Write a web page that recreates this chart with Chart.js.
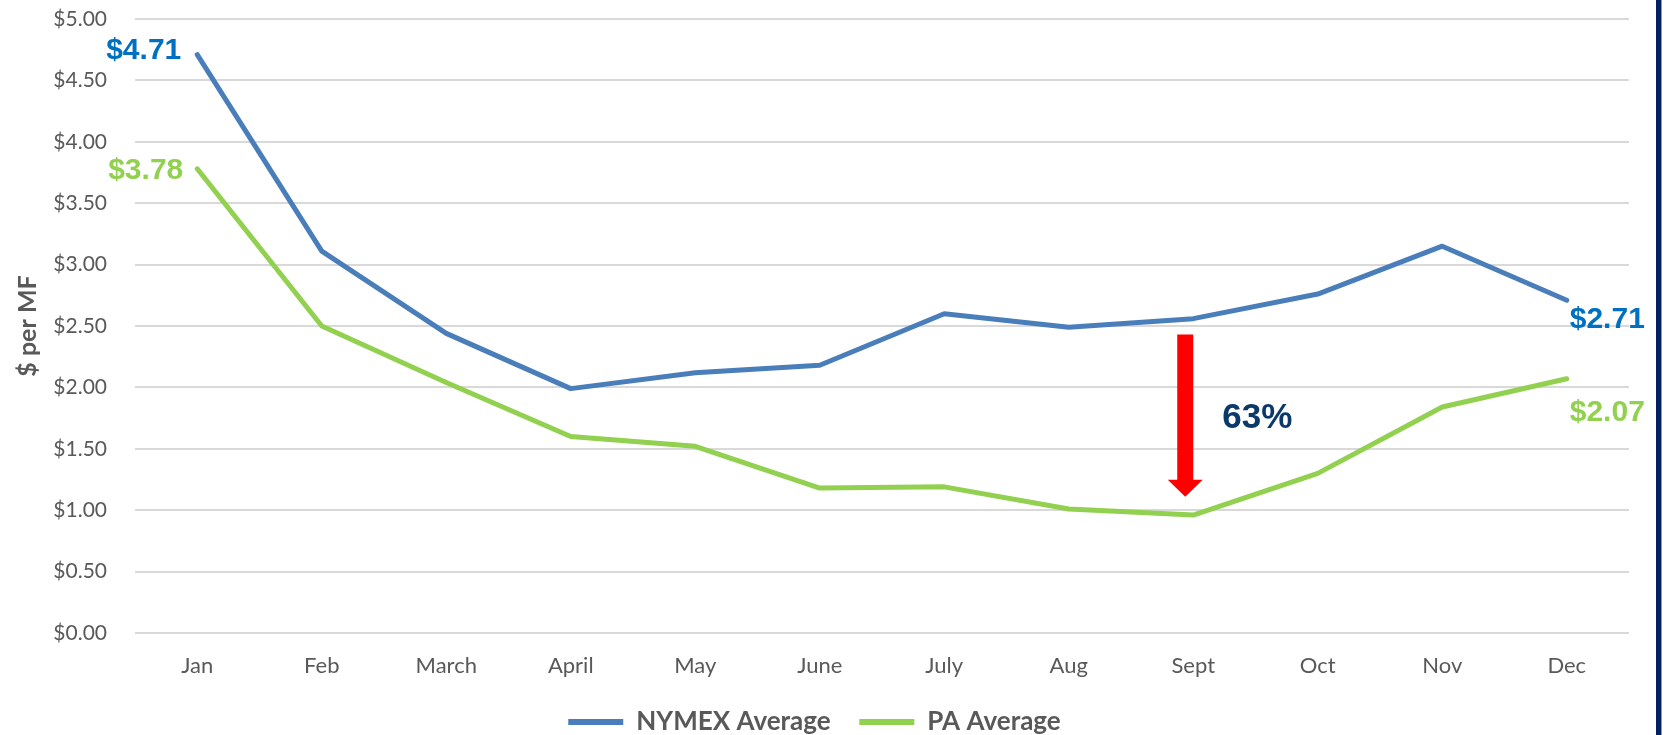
<!DOCTYPE html>
<html>
<head>
<meta charset="utf-8">
<script src="https://cdn.jsdelivr.net/npm/chart.js@4.4.1/dist/chart.umd.min.js"></script>
<style>
  html, body { margin: 0; padding: 0; background: #ffffff; }
  #wrap { position: relative; width: 1665px; height: 735px; overflow: hidden; }
  #edge { position: absolute; left: 1656px; top: 0; width: 5px; height: 735px; background: #002060; border-right: 1px solid #7F9BD6; }
</style>
</head>
<body>
<div id="wrap">
  <canvas id="c" width="1665" height="735"></canvas>
  <div id="edge"></div>
</div>
<script>
// ---- data ----
const months = ["Jan", "Feb", "March", "April", "May", "June", "July", "Aug", "Sept", "Oct", "Nov", "Dec"];
const nymexAverage = [4.71, 3.11, 2.44, 1.99, 2.12, 2.18, 2.60, 2.49, 2.56, 2.76, 3.15, 2.71];
const paAverage = [3.78, 2.50, 2.04, 1.60, 1.52, 1.18, 1.19, 1.01, 0.96, 1.30, 1.84, 2.07];
const seriesNames = ["NYMEX Average", "PA Average"];
const yTickValues = [0, 0.5, 1, 1.5, 2, 2.5, 3, 3.5, 4, 4.5, 5];
const dropLabel = "63%";
const dropMonth = "Sept";

const BLUE = "#4A7EBB", GREEN = "#92D050", LBLUE = "#0070C0", GRAY = "#595959";
const SANS = "Lato, 'Open Sans', sans-serif";

const annotate = {
  id: "annotate",
  afterDatasetsDraw(chart) {
    const ctx = chart.ctx, xs = chart.scales.x, ys = chart.scales.y;
    const last = months.length - 1;
    ctx.save();
    ctx.font = "bold 30px 'Liberation Sans', Arial, sans-serif";
    ctx.textBaseline = "middle";
    // first-point labels
    ctx.textAlign = "right";
    ctx.fillStyle = LBLUE;
    ctx.fillText("$" + nymexAverage[0].toFixed(2), xs.getPixelForValue(0) - 16, ys.getPixelForValue(nymexAverage[0]) - 4);
    ctx.fillStyle = GREEN;
    ctx.fillText("$" + paAverage[0].toFixed(2), xs.getPixelForValue(0) - 14, ys.getPixelForValue(paAverage[0]) + 2);
    // last-point labels
    ctx.textAlign = "left";
    ctx.fillStyle = LBLUE;
    ctx.fillText("$" + nymexAverage[last].toFixed(2), xs.getPixelForValue(last) + 3, ys.getPixelForValue(nymexAverage[last]) + 20);
    ctx.fillStyle = GREEN;
    ctx.fillText("$" + paAverage[last].toFixed(2), xs.getPixelForValue(last) + 3, ys.getPixelForValue(paAverage[last]) + 34);

    // red arrow at Sept
    const di = months.indexOf(dropMonth);
    const ax = xs.getPixelForValue(di) - 8;
    const yTop = ys.getPixelForValue(2.43);
    const yTip = ys.getPixelForValue(1.11);
    const headH = 17, headW = 35, shaftW = 16;
    ctx.fillStyle = "#FF0000";
    ctx.beginPath();
    ctx.moveTo(ax - shaftW / 2, yTop);
    ctx.lineTo(ax + shaftW / 2, yTop);
    ctx.lineTo(ax + shaftW / 2, yTip - headH);
    ctx.lineTo(ax + headW / 2, yTip - headH);
    ctx.lineTo(ax, yTip);
    ctx.lineTo(ax - headW / 2, yTip - headH);
    ctx.lineTo(ax - shaftW / 2, yTip - headH);
    ctx.closePath();
    ctx.fill();

    // percentage label
    ctx.font = "bold 35px 'Liberation Sans', Arial, sans-serif";
    ctx.fillStyle = "#0B3A6A";
    ctx.textAlign = "center";
    ctx.fillText(dropLabel, xs.getPixelForValue(di) + 64, ys.getPixelForValue(1.75));
    ctx.restore();
  }
};

new Chart(document.getElementById("c"), {
  type: "line",
  data: {
    labels: months,
    datasets: [
      { label: seriesNames[0], data: nymexAverage, borderColor: BLUE, backgroundColor: BLUE, borderWidth: 5, pointRadius: 0, tension: 0, borderCapStyle: "round", borderJoinStyle: "round" },
      { label: seriesNames[1], data: paAverage, borderColor: GREEN, backgroundColor: GREEN, borderWidth: 5, pointRadius: 0, tension: 0, borderCapStyle: "round", borderJoinStyle: "round" }
    ]
  },
  options: {
    responsive: false,
    animation: false,
    layout: { padding: { left: 0, right: 36, top: 19, bottom: -10 } },
    plugins: {
      tooltip: { enabled: false },
      legend: {
        position: "bottom",
        labels: {
          boxWidth: 55,
          boxHeight: 6,
          padding: 16,
          color: GRAY,
          font: { family: SANS, size: 26, weight: "bold" },
          generateLabels(chart) {
            return chart.data.datasets.map((ds, i) => ({
              text: i === 0 ? ds.label + "  " : ds.label,
              fillStyle: ds.borderColor,
              strokeStyle: ds.borderColor,
              lineWidth: 0,
              hidden: false,
              datasetIndex: i,
              fontColor: GRAY
            }));
          }
        }
      }
    },
    scales: {
      x: {
        offset: true,
        grid: { display: false },
        border: { display: false },
        ticks: { color: GRAY, padding: 12, maxRotation: 0, font: { family: SANS, size: 22 } },
        afterFit(s) { s.height = 60; }
      },
      y: {
        min: 0,
        max: 5,
        afterBuildTicks(s) { s.ticks = yTickValues.map(v => ({ value: v })); },
        grid: { color: "#D9D9D9", lineWidth: 2, drawTicks: true, tickLength: 28, tickColor: "rgba(0,0,0,0)" },
        border: { display: false },
        ticks: {
          color: GRAY,
          padding: 0,
          font: { family: SANS, size: 21 },
          callback: v => "$" + Number(v).toFixed(2)
        },
        title: {
          display: true,
          text: "$ per MF",
          color: GRAY,
          padding: { top: 13, bottom: 0 },
          font: { family: SANS, size: 25, weight: "bold" }
        },
        afterFit(s) { s.width = 135; }
      }
    }
  },
  plugins: [annotate]
});
</script>
</body>
</html>
